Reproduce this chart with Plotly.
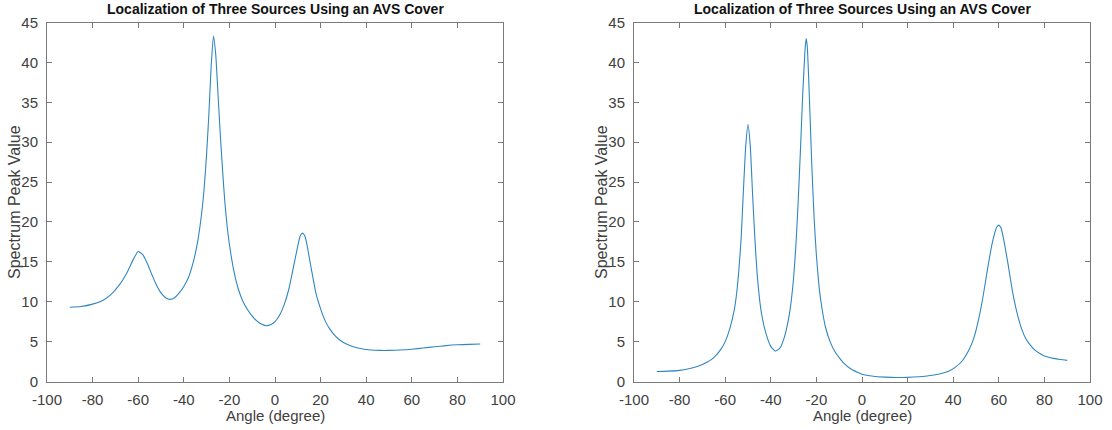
import plotly.graph_objects as go

# ---- data ----
angle_left = [-90, -85, -80, -76, -72, -68, -65, -62, -60, -58, -56, -54, -52, -50, -48, -46, -44, -42, -40,
              -38, -36, -34, -32, -31, -30, -29, -28, -27, -26, -25, -24, -23, -22, -21, -20, -18, -16, -14,
              -12, -10, -8, -6, -4, -2, 0, 2, 4, 6, 8, 10, 11, 12, 13, 14, 15, 16, 18, 20, 22, 24, 26, 28,
              30, 34, 38, 42, 46, 50, 55, 60, 65, 70, 75, 80, 85, 90]
peak_left = [9.3, 9.4, 9.7, 10.1, 10.9, 12.2, 13.6, 15.4, 16.3, 15.9, 14.8, 13.4, 12.1, 11.1, 10.5, 10.3, 10.5,
             11.1, 11.9, 13.0, 14.8, 17.4, 21.5, 24.5, 28.5, 33.5, 39.5, 43.3, 41.0, 36.0, 31.0, 26.5, 22.5,
             19.5, 17.2, 13.8, 11.5, 10.0, 9.0, 8.2, 7.6, 7.2, 7.0, 7.1, 7.5, 8.3, 9.6, 11.5, 14.2, 17.0,
             18.2, 18.6, 18.3, 17.2, 15.6, 14.0, 11.0, 9.1, 7.6, 6.6, 5.85, 5.3, 4.9, 4.4, 4.1, 3.95, 3.9,
             3.9, 3.95, 4.05, 4.2, 4.35, 4.5, 4.6, 4.65, 4.7]

angle_right = [-90, -85, -80, -76, -72, -68, -65, -62, -60, -58, -56, -55, -54, -53, -52, -51, -50, -49, -48,
               -47, -46, -45, -44, -42, -40, -38, -36, -34, -32, -31, -30, -29, -28, -27, -26, -25, -24.5,
               -24, -23, -22, -21, -20, -19, -18, -16, -14, -12, -10, -8, -5, -2, 0, 5, 10, 15, 20, 25, 30,
               34, 38, 41, 44, 47, 49, 51, 53, 55, 57, 59, 60, 61, 62, 64, 66, 68, 70, 72, 74, 76, 78, 80,
               84, 87, 90]
peak_right = [1.25, 1.3, 1.4, 1.6, 1.9, 2.4, 3.0, 4.0, 5.0, 6.6, 9.0, 11.0, 14.0, 18.0, 24.0, 29.5, 32.2, 29.5,
              23.5, 18.0, 13.5, 10.5, 8.4, 5.9, 4.4, 3.8, 4.2, 5.6, 8.2, 10.2, 13.0, 17.0, 22.5, 29.0, 36.0,
              41.5, 43.0, 42.0, 35.0, 27.0, 20.5, 15.8, 12.4, 10.0, 6.8, 5.0, 3.8, 3.0, 2.3, 1.6, 1.15, 0.9,
              0.65, 0.55, 0.5, 0.52, 0.6, 0.75, 0.95, 1.3, 1.8, 2.6, 4.0, 5.4, 7.6, 10.5, 14.0, 17.2, 19.3,
              19.6, 19.2, 18.0, 14.8, 11.3, 8.6, 6.6, 5.3, 4.5, 3.9, 3.5, 3.2, 2.9, 2.75, 2.65]

x_ticks = [-100, -80, -60, -40, -20, 0, 20, 40, 60, 80, 100]
y_ticks = [0, 5, 10, 15, 20, 25, 30, 35, 40, 45]
title_text = "Localization of Three Sources Using an AVS Cover"
x_label = "Angle (degree)"
y_label = "Spectrum Peak Value"

# ---- figure ----
W, H = 1112, 430
FONT = "Liberation Sans, Arial, Helvetica, sans-serif"
LINE = "#2f86c0"
AX = "#7a7a7a"
TXT = "#404040"

fig = go.Figure()
fig.add_trace(go.Scatter(x=angle_left, y=peak_left, mode="lines", line=dict(color=LINE, width=1.1,
                         shape="spline", smoothing=0.5), xaxis="x", yaxis="y", showlegend=False))
fig.add_trace(go.Scatter(x=angle_right, y=peak_right, mode="lines", line=dict(color=LINE, width=1.1,
                         shape="spline", smoothing=0.5), xaxis="x2", yaxis="y2", showlegend=False))

x_dom1 = [47.0 / W, 503.0 / W]
x_dom2 = [634.0 / W, 1090.0 / W]
y_dom = [1 - 381.5 / H, 1 - 22.5 / H]

def xax(dom, anchor):
    return dict(domain=dom, anchor=anchor, range=[-100, 100], tickvals=x_ticks,
                ticktext=[str(v) for v in x_ticks], ticks="inside", ticklen=5, tickcolor=AX,
                showline=True, linecolor=AX, linewidth=1, mirror="ticks", showgrid=False,
                zeroline=False, ticklabelstandoff=4, automargin=False,
                tickfont=dict(family=FONT, size=15, color=TXT))

def yax(anchor):
    return dict(domain=y_dom, anchor=anchor, range=[0, 45], tickvals=y_ticks,
                ticktext=[str(v) for v in y_ticks], ticks="inside", ticklen=5, tickcolor=AX,
                showline=True, linecolor=AX, linewidth=1, mirror="ticks", showgrid=False,
                zeroline=False, ticklabelstandoff=5, automargin=False,
                tickfont=dict(family=FONT, size=15, color=TXT))

annotations = []
for dom in (x_dom1, x_dom2):
    cx = (dom[0] + dom[1]) / 2
    annotations.append(dict(text="<b>" + title_text + "</b>", x=cx, y=1 - 9 / H, xref="paper",
                            yref="paper", showarrow=False, xanchor="center", yanchor="middle",
                            font=dict(family=FONT, size=14, color="#111111")))
    annotations.append(dict(text=x_label, x=cx, y=1 - 415 / H, xref="paper", yref="paper",
                            showarrow=False, xanchor="center", yanchor="middle",
                            font=dict(family=FONT, size=15, color=TXT)))
for xpix in (14.0, 601.0):
    annotations.append(dict(text=y_label, x=xpix / W, y=(y_dom[0] + y_dom[1]) / 2, xref="paper",
                            yref="paper", showarrow=False, textangle=-90, xanchor="center",
                            yanchor="middle", font=dict(family=FONT, size=16, color=TXT)))

fig.update_layout(
    width=W, height=H, margin=dict(l=0, r=0, t=0, b=0, autoexpand=False),
    paper_bgcolor="white", plot_bgcolor="white",
    xaxis=xax(x_dom1, "y"), yaxis=yax("x"),
    xaxis2=xax(x_dom2, "y2"), yaxis2=yax("x2"),
    annotations=annotations, showlegend=False,
)

fig.write_html("out.html", config={"displayModeBar": False})

# remove the browser's default page margin so the figure sits at the window's corner
with open("out.html", "r", encoding="utf-8") as f:
    html = f.read()
html = html.replace("<body>", '<body style="margin:0;padding:0;overflow:hidden">', 1)
with open("out.html", "w", encoding="utf-8") as f:
    f.write(html)
